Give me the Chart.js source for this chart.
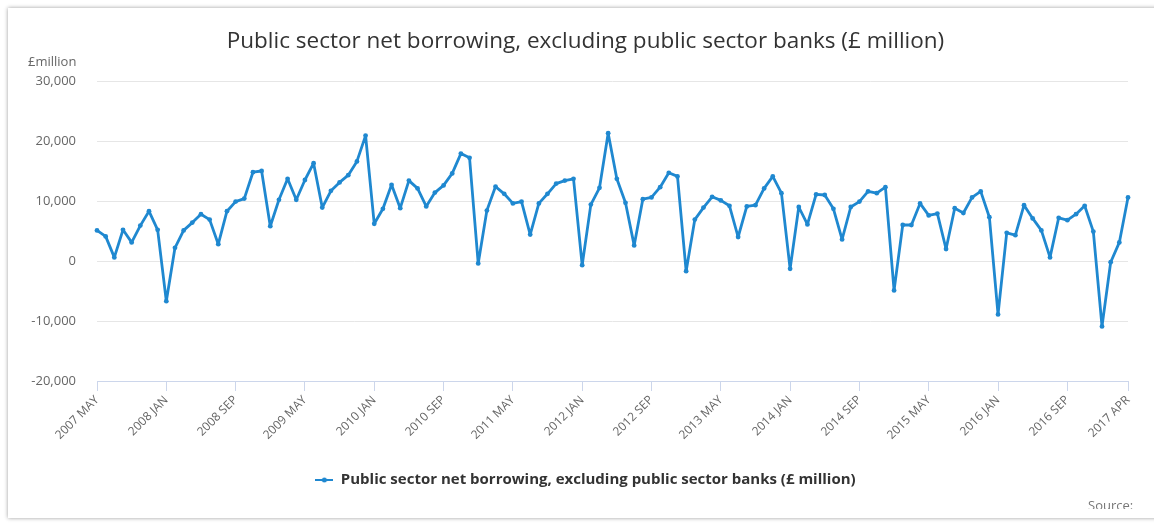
<!DOCTYPE html>
<html>
<head>
<meta charset="utf-8">
<title>Public sector net borrowing</title>
<script src="https://cdn.jsdelivr.net/npm/chart.js@4/dist/chart.umd.min.js"></script>
<style>
  html, body { margin: 0; padding: 0; background: #fff; overflow: hidden; }
  #card {
    position: absolute; left: 8px; top: 8px; width: 1150px; height: 510px;
    background: #fff; box-shadow: 0 0 4px rgba(0, 0, 0, .4);
  }
  #wrap { position: absolute; left: 0; top: 0; width: 1171px; height: 509px; }
</style>
</head>
<body>
<div id="card"></div>
<div id="wrap"><canvas id="psnb"></canvas></div>
<script>
(function () {
    'use strict';

    // Monthly series, May 2007 – April 2017
    var START_YEAR  = 2007;
    var START_MONTH = 4;   // 0-based, May
    var MONTH_NAMES = ['JAN', 'FEB', 'MAR', 'APR', 'MAY', 'JUN',
                       'JUL', 'AUG', 'SEP', 'OCT', 'NOV', 'DEC'];

    // £ million
    var borrowing = [
         5100,  4100,   600,  5200,  3100,  5900,  8300,  5200, -6700,  2200,
         5100,  6400,  7800,  6900,  2800,  8300,  9900, 10400, 14800, 15000,
         5800, 10200, 13700, 10200, 13500, 16300,  8900, 11700, 13100, 14300,
        16600, 20900,  6200,  8700, 12700,  8800, 13400, 12100,  9100, 11400,
        12600, 14600, 17900, 17200,  -400,  8400, 12400, 11200,  9600,  9900,
         4400,  9600, 11200, 12900, 13400, 13700,  -700,  9400, 12200, 21300,
        13700,  9700,  2600, 10300, 10600, 12300, 14700, 14100, -1700,  6900,
         8900, 10700, 10100,  9200,  4000,  9100,  9300, 12100, 14100, 11300,
        -1300,  9000,  6100, 11100, 11000,  8700,  3600,  9000,  9900, 11600,
        11300, 12300, -4900,  6000,  6000,  9600,  7600,  7900,  2000,  8800,
         8000, 10600, 11600,  7300, -8900,  4700,  4300,  9300,  7100,  5100,
          600,  7200,  6800,  7800,  9200,  4900,-10900,  -200,  3100, 10600
    ];

    var shownTicks = ['2007 MAY', '2008 JAN', '2008 SEP', '2009 MAY', '2010 JAN',
                      '2010 SEP', '2011 MAY', '2012 JAN', '2012 SEP', '2013 MAY',
                      '2014 JAN', '2014 SEP', '2015 MAY', '2016 JAN', '2016 SEP',
                      '2017 APR'];

    var yTicks = [-20000, -10000, 0, 10000, 20000, 30000];

    var TITLE  = 'Public sector net borrowing, excluding public sector banks (£ million)';
    var LINE   = '#1f88d0';

    var months = borrowing.map(function (_, i) {
        var m = START_MONTH + i;
        return (START_YEAR + Math.floor(m / 12)) + ' ' + MONTH_NAMES[m % 12];
    });

    // legend marker: short line with a dot in the middle
    var marker = document.createElement('canvas');
    marker.width = 18;
    marker.height = 8;
    var mc = marker.getContext('2d');
    mc.strokeStyle = LINE;
    mc.lineWidth = 2;
    mc.beginPath(); mc.moveTo(0, 4); mc.lineTo(18, 4); mc.stroke();
    mc.fillStyle = LINE;
    mc.beginPath(); mc.arc(9, 4, 2.5, 0, Math.PI * 2); mc.fill();

    // unit label above the y axis and the cut-off source note
    var extraText = {
        id: 'extraText',
        afterDraw: function (chart) {
            var ctx = chart.ctx;
            ctx.save();
            ctx.font = '13px "Open Sans", sans-serif';
            ctx.fillStyle = '#666';
            ctx.textBaseline = 'middle';
            ctx.textAlign = 'left';
            ctx.fillText('£million', 28, 62);
            ctx.fillStyle = '#777';
            ctx.textBaseline = 'top';
            ctx.fillText('Source:', 1088, 500);
            ctx.restore();
        }
    };

    Chart.defaults.font.family = '"Open Sans", sans-serif';
    Chart.defaults.color = '#666';

    new Chart(document.getElementById('psnb'), {
        type: 'line',
        data: {
            labels: months,
            datasets: [{
                label: TITLE,
                data: borrowing,
                borderColor: LINE,
                backgroundColor: LINE,
                borderWidth: 2.8,
                borderJoinStyle: 'round',
                borderCapStyle: 'round',
                pointRadius: 2.4,
                pointBorderWidth: 0,
                pointBackgroundColor: LINE,
                tension: 0,
            }]
        },
        options: {
            responsive: true,
            maintainAspectRatio: false,
            animation: false,
            layout: { padding: { left: 0, right: 0, top: 0, bottom: 11.5 } },
            plugins: {
                title: {
                    display: true,
                    text: TITLE,
                    color: '#333',
                    font: { size: 22.5, weight: 'normal' },
                    padding: { top: 28, bottom: 26 }
                },
                legend: {
                    position: 'bottom',
                    labels: {
                        color: '#333',
                        font: { size: 15, weight: 'bold' },
                        padding: 10,
                        usePointStyle: true,
                        pointStyle: marker,
                        pointStyleWidth: 18,
                    }
                },
                tooltip: { enabled: false }
            },
            scales: {
                x: {
                    afterFit: function (scale) { scale.height = 81.5; },
                    grid: {
                        drawOnChartArea: false,
                        drawTicks: true,
                        tickLength: 10,
                        color: '#ccd6eb'
                    },
                    border: { color: '#ccd6eb' },
                    ticks: {
                        autoSkip: false,
                        minRotation: 45,
                        maxRotation: 45,
                        padding: 2,
                        font: { size: 12 },
                        callback: function (val, i) {
                            var lab = this.getLabelForValue(val);
                            return shownTicks.indexOf(lab) >= 0 ? lab : null;
                        }
                    }
                },
                y: {
                    min: yTicks[0],
                    max: yTicks[yTicks.length - 1],
                    afterFit: function (scale) { scale.width = 97; },
                    afterBuildTicks: function (scale) {
                        scale.ticks = yTicks.map(function (v) { return { value: v }; });
                    },
                    grid: { color: '#e6e6e6', drawTicks: false },
                    border: { display: false },
                    ticks: {
                        padding: 21,
                        font: { size: 13 },
                        callback: function (v) { return v.toLocaleString('en-GB'); }
                    }
                },
                // empty right-hand margin so title and legend sit centred on the card
                gutter: {
                    type: 'linear',
                    position: 'right',
                    afterFit: function (scale) { scale.width = 43; },
                    grid: { display: false },
                    border: { display: false },
                    ticks: { display: false }
                }
            }
        },
        plugins: [extraText]
    });
})();
</script>
</body>
</html>
